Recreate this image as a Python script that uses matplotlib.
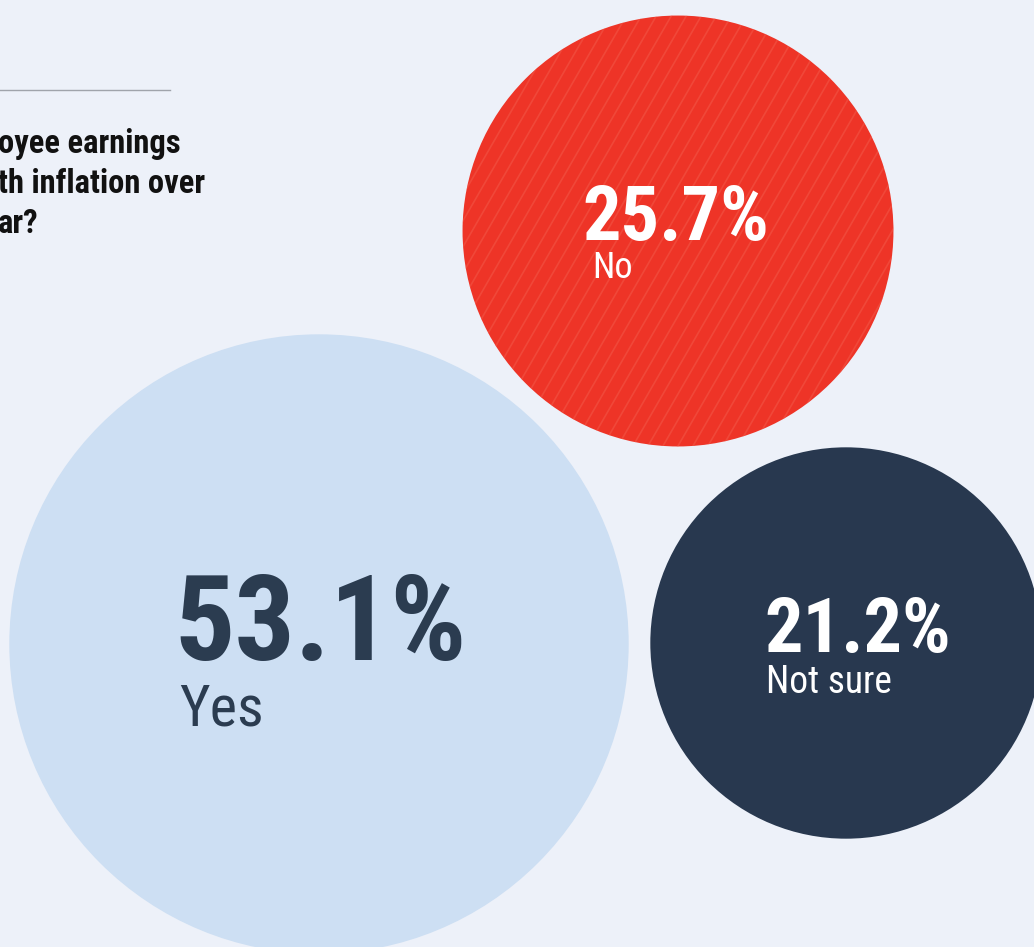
import numpy as np
import matplotlib
matplotlib.use("Agg")
import matplotlib.pyplot as plt
from matplotlib.patches import Circle

# Survey answers
labels = ["Yes", "No", "Not sure"]
values = [53.1, 25.7, 21.2]
question_lines = ["oyee earnings", "th inflation over", "ar?"]

# layout (pixel space, y grows downward)
centers = {"Yes": (319, 644), "No": (678, 231), "Not sure": (846, 643)}
fills = {"Yes": "#cddff3", "No": "#ee3427", "Not sure": "#28384f"}
ink = {"Yes": "#2b3c50", "No": "white", "Not sure": "white"}
# offsets from circle centre: value x, value baseline, label x, label baseline, sizes
text_pos = {
    "Yes": (-145, 16, -140, 81, 86, 42),
    "No": (-96, 9, -86, 47, 55, 26),
    "Not sure": (-82, 9, -80, 50, 55, 27),
}
scale = 42.5  # radius = scale * sqrt(percent)

bg = "#edf1f9"
plt.rcParams["font.family"] = ["Roboto Condensed", "DejaVu Sans"]

fig = plt.figure(figsize=(10.34, 9.47), dpi=100, facecolor=bg)
ax = fig.add_axes([0, 0, 1, 1])
ax.set_facecolor(bg)
ax.set_xlim(0, 1034)
ax.set_ylim(947, 0)
ax.set_aspect("equal")
ax.axis("off")

for lab, val in zip(labels, values):
    cx, cy = centers[lab]
    r = scale * np.sqrt(val)
    circ = Circle((cx, cy), r, facecolor=fills[lab], edgecolor="none", zorder=1)
    ax.add_patch(circ)
    if lab == "No":
        # faint diagonal stripes inside the red bubble
        clip = Circle((cx, cy), r, transform=ax.transData)
        slope = np.tan(np.radians(60))
        for x0 in np.arange(cx - 2 * r, cx + 2 * r, 15):
            ln, = ax.plot([x0 - r / slope * 1.2, x0 + r / slope * 1.2],
                          [cy + r * 1.2, cy - r * 1.2],
                          color="#f3604f", lw=1.2, alpha=0.45, zorder=2)
            ln.set_clip_path(clip)
    vx, vy, lx, ly, fs_val, fs_lab = text_pos[lab]
    ax.text(cx + vx, cy + vy, f"{val:.1f}%", color=ink[lab], fontsize=fs_val,
            fontweight="bold", ha="left", va="baseline", zorder=3)
    ax.text(cx + lx, cy + ly, lab, color=ink[lab], fontsize=fs_lab,
            ha="left", va="baseline", zorder=3)

# question header
ax.plot([0, 170], [90, 90], color="#a0a4ab", lw=1)
for i, line in enumerate(question_lines):
    ax.text(-2, 153 + i * 40, line, color="#111111", fontsize=23.5,
            fontweight="bold", ha="left", va="baseline")

fig.savefig("out.png", dpi=100, facecolor=bg)
